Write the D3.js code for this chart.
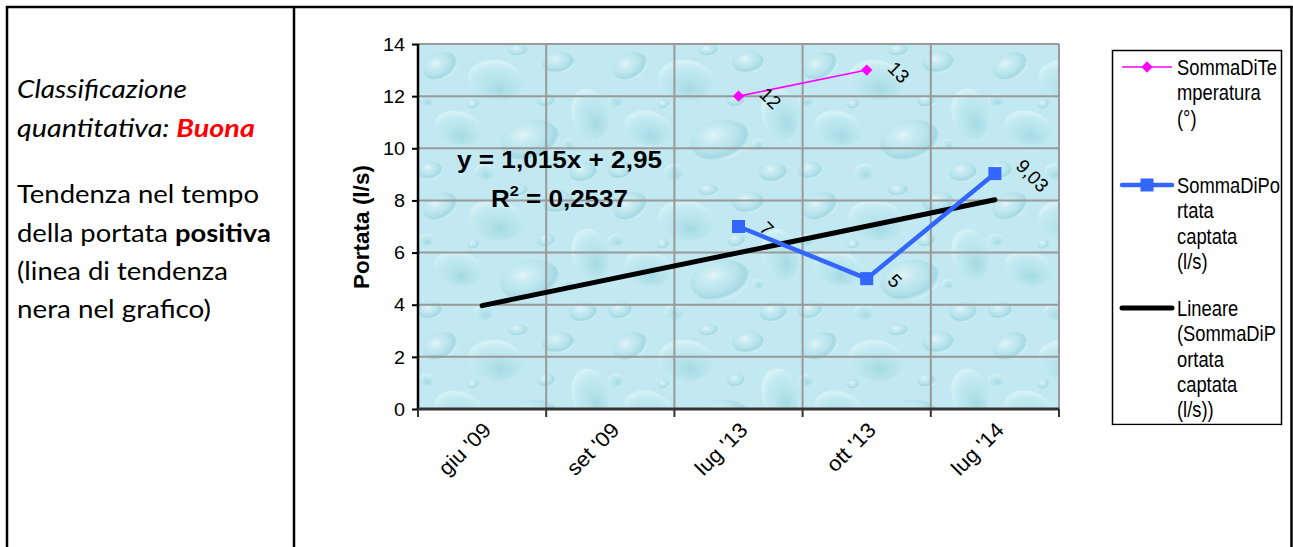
<!DOCTYPE html>
<html><head><meta charset="utf-8">
<script src="https://cdn.jsdelivr.net/npm/d3@7"></script>
<style>html,body{margin:0;padding:0;background:#fff;overflow:hidden}svg{display:block}</style>
</head><body><svg id="c" width="1293" height="547"></svg>
<script>
// ---------------- data ----------------
const categories = ["giu '09", "set '09", "lug '13", "ott '13", "lug '14"];
const temperatura = [null, null, 12, 13, null];
const portata = [null, null, 7, 5, 9.03];
const yTicks = [0, 2, 4, 6, 8, 10, 12, 14];
const yTitle = "Portata (l/s)";
const legendTemperatura = ["SommaDiTe", "mperatura", "(°)"];
const legendPortata = ["SommaDiPo", "rtata", "captata", "(l/s)"];
const legendLineare = ["Lineare", "(SommaDiP", "ortata", "captata", "(l/s))"];
const panelLine1 = "Classificazione";
const panelLine2a = "quantitativa: ";
const panelLine2b = "Buona";
const panelLine3 = "Tendenza nel tempo";
const panelLine4a = "della portata ";
const panelLine4b = "positiva";
const panelLine5 = "(linea di tendenza";
const panelLine6 = "nera nel grafico)";

// ---------------- setup ----------------
const svg = d3.select("#c");
const it = d3.formatLocale({decimal: ",", thousands: ".", grouping: [3], currency: ["", "€"]});
const fmtLabel = it.format("~g");
const ARIAL = "'Liberation Sans', Arial, sans-serif";
const PANEL_FONT = "Lato, 'Open Sans', sans-serif";

const plot = {left: 418, right: 1059, top: 44, bottom: 409};
const x = d3.scaleBand().domain(categories).range([plot.left, plot.right]).padding(0);
const y = d3.scaleLinear().domain([0, 14]).range([plot.bottom, plot.top]);
const cx = c => x(c) + x.bandwidth() / 2;

// ---------------- frame ----------------
const frame = svg.append("g").attr("stroke", "#000").attr("stroke-width", 2.5);
frame.append("line").attr("x1", 7).attr("x2", 7).attr("y1", 6).attr("y2", 547);
frame.append("line").attr("x1", 294).attr("x2", 294).attr("y1", 6).attr("y2", 547);
frame.append("line").attr("x1", 1291.5).attr("x2", 1291.5).attr("y1", 6).attr("y2", 547);
frame.append("line").attr("x1", 6).attr("x2", 1292.5).attr("y1", 7).attr("y2", 7);

// ---------------- left panel ----------------
const panel = svg.append("g").attr("font-family", PANEL_FONT).attr("font-size", 25).attr("fill", "#000");
function panelLine(parts, baseline, targetW) {
  const t = panel.append("text").attr("x", 0).attr("y", 0);
  parts.forEach(p => {
    const s = t.append("tspan").text(p.text);
    if (p.italic) s.attr("font-style", "italic");
    if (p.bold) s.attr("font-weight", "bold");
    if (p.fill) s.attr("fill", p.fill);
  });
  const w = t.node().getComputedTextLength();
  t.attr("transform", `translate(17,${baseline}) scale(${targetW / w},1)`);
}
panelLine([{text: panelLine1, italic: true}], 98, 170);
panelLine([{text: panelLine2a, italic: true}, {text: panelLine2b, italic: true, bold: true, fill: "#ff0000"}], 137, 238);
panelLine([{text: panelLine3}], 203, 242);
panelLine([{text: panelLine4a}, {text: panelLine4b, bold: true}], 242, 254);
panelLine([{text: panelLine5}], 280, 211);
panelLine([{text: panelLine6}], 318, 194);

// ---------------- plot background texture ----------------
const defs = svg.append("defs");
const rg = defs.append("radialGradient").attr("id", "drop").attr("cx", "40%").attr("cy", "35%").attr("r", "65%");
rg.append("stop").attr("offset", "0%").attr("stop-color", "#ffffff").attr("stop-opacity", 0.55);
rg.append("stop").attr("offset", "45%").attr("stop-color", "#b9e4ed").attr("stop-opacity", 0.3);
rg.append("stop").attr("offset", "85%").attr("stop-color", "#8ccbd9").attr("stop-opacity", 0.55);
rg.append("stop").attr("offset", "100%").attr("stop-color", "#d8f4f8").attr("stop-opacity", 0.6);
const rg2 = defs.append("radialGradient").attr("id", "drop2").attr("cx", "60%").attr("cy", "70%").attr("r", "65%");
rg2.append("stop").attr("offset", "0%").attr("stop-color", "#8fcfdc").attr("stop-opacity", 0.6);
rg2.append("stop").attr("offset", "70%").attr("stop-color", "#b7e4ec").attr("stop-opacity", 0.25);
rg2.append("stop").attr("offset", "100%").attr("stop-color", "#e6f9fb").attr("stop-opacity", 0.5);
const pat = defs.append("pattern").attr("id", "water").attr("patternUnits", "userSpaceOnUse")
  .attr("width", 190).attr("height", 140).attr("x", plot.left).attr("y", plot.top);
pat.append("rect").attr("width", 190).attr("height", 140).attr("fill", "#c2e9f1");
const texture = [
  [22, 22, 18, 13, 1, -20], [78, 36, 28, 20, 2, 10], [140, 18, 16, 11, 1, 0], [172, 70, 18, 26, 2, -15],
  [40, 84, 24, 17, 2, 15], [112, 96, 30, 20, 1, -10], [12, 126, 12, 9, 1, 0], [165, 128, 14, 10, 1, 0],
  [66, 128, 10, 8, 2, 0], [128, 56, 9, 7, 1, 0], [8, 56, 8, 6, 2, 0], [100, 6, 10, 6, 1, 0],
  [55, 60, 6, 5, 1, 0], [150, 100, 6, 5, 2, 0]
];
texture.forEach(d => pat.append("ellipse").attr("cx", d[0]).attr("cy", d[1]).attr("rx", d[2]).attr("ry", d[3])
  .attr("transform", `rotate(${d[5]},${d[0]},${d[1]})`)
  .attr("fill", d[4] === 1 ? "url(#drop)" : "url(#drop2)"));
svg.append("rect").attr("x", plot.left).attr("y", plot.top).attr("width", plot.right - plot.left)
  .attr("height", plot.bottom - plot.top).attr("fill", "url(#water)");

// ---------------- grid ----------------
const grid = svg.append("g").attr("stroke", "#999").attr("stroke-width", 2);
grid.selectAll("line.h").data(yTicks.filter(v => v > 0)).join("line")
  .attr("x1", plot.left).attr("x2", plot.right).attr("y1", d => y(d)).attr("y2", d => y(d));
const bounds = categories.slice(1).map(c => x(c)).concat([plot.right]);
grid.selectAll("line.v").data(bounds).join("line")
  .attr("x1", d => d).attr("x2", d => d).attr("y1", plot.top).attr("y2", plot.bottom);

// ---------------- axes ----------------
const yAxis = svg.append("g").attr("transform", `translate(${plot.left},0)`)
  .call(d3.axisLeft(y).tickValues(yTicks).tickSize(6).tickPadding(0).tickFormat(""));
yAxis.select(".domain").attr("stroke", "#000").attr("stroke-width", 2.5).attr("d", `M0,${plot.top}V${plot.bottom}`);
yAxis.selectAll(".tick line").attr("stroke", "#000").attr("stroke-width", 2);
const yLab = svg.append("g").attr("font-family", ARIAL).attr("font-size", 18.5).attr("fill", "#000");
yTicks.forEach(v => {
  const t = yLab.append("text").attr("text-anchor", "end").attr("dy", "0.36em").text(v);
  t.attr("transform", `translate(405,${y(v)}) scale(1.07,1)`);
});

const xAxis = svg.append("g").attr("transform", `translate(0,${plot.bottom})`)
  .call(d3.axisBottom(x).tickSize(0).tickFormat(""));
xAxis.select(".domain").attr("stroke", "#333").attr("stroke-width", 3).attr("d", `M${plot.left},0H${plot.right}`);
xAxis.selectAll(".tick").remove();
svg.append("g").attr("stroke", "#333").attr("stroke-width", 2)
  .selectAll("line").data([plot.left].concat(bounds)).join("line")
  .attr("x1", d => d).attr("x2", d => d).attr("y1", plot.bottom).attr("y2", plot.bottom + 8);
const xLab = svg.append("g").attr("font-family", ARIAL).attr("font-size", 21).attr("fill", "#000");
categories.forEach(c => {
  xLab.append("text").attr("text-anchor", "end").attr("dy", "0.36em")
    .attr("transform", `translate(${cx(c) + 5},${plot.bottom + 17}) rotate(-45) scale(1.05,1)`).text(c);
});

// y title
svg.append("text").attr("font-family", ARIAL).attr("font-size", 22.5).attr("font-weight", "bold")
  .attr("text-anchor", "middle").attr("dy", "0.36em")
  .attr("transform", `translate(361,227) rotate(-90)`).text(yTitle);

// ---------------- trend line (least squares on category index) ----------------
const pts = portata.map((v, i) => ({i: i + 1, v})).filter(d => d.v != null);
const mx = d3.mean(pts, d => d.i), my = d3.mean(pts, d => d.v);
const slope = d3.sum(pts, d => (d.i - mx) * (d.v - my)) / d3.sum(pts, d => (d.i - mx) ** 2);
const intercept = my - slope * mx;
const ssTot = d3.sum(pts, d => (d.v - my) ** 2);
const ssRes = d3.sum(pts, d => (d.v - (slope * d.i + intercept)) ** 2);
const r2 = 1 - ssRes / ssTot;
const xi = i => cx(categories[i - 1]);
svg.append("line").attr("x1", xi(1)).attr("y1", y(slope * 1 + intercept))
  .attr("x2", xi(categories.length)).attr("y2", y(slope * categories.length + intercept))
  .attr("stroke", "#000").attr("stroke-width", 5).attr("stroke-linecap", "round");

// ---------------- series ----------------
const lineGen = d3.line().defined(d => d.v != null).x(d => cx(d.c)).y(d => y(d.v));
const tData = categories.map((c, i) => ({c, v: temperatura[i]}));
const pData = categories.map((c, i) => ({c, v: portata[i]}));
svg.append("path").datum(pData).attr("d", lineGen).attr("fill", "none")
  .attr("stroke", "#3366ff").attr("stroke-width", 4.5).attr("stroke-linejoin", "miter");
svg.selectAll("rect.pm").data(pData.filter(d => d.v != null)).join("rect").attr("class", "pm")
  .attr("x", d => cx(d.c) - 6.5).attr("y", d => y(d.v) - 6.5).attr("width", 13).attr("height", 13).attr("fill", "#3366ff");
svg.append("path").datum(tData).attr("d", lineGen).attr("fill", "none")
  .attr("stroke", "#ff00ff").attr("stroke-width", 1.6);
const diamond = d3.symbol().type(d3.symbolSquare).size(64);
svg.selectAll("path.tm").data(tData.filter(d => d.v != null)).join("path").attr("class", "tm")
  .attr("d", diamond).attr("fill", "#ff00ff")
  .attr("transform", d => `translate(${cx(d.c)},${y(d.v)}) rotate(45)`);

// data labels (rotated 45°, to the right of points)
const dl = svg.append("g").attr("font-family", ARIAL).attr("font-size", 19).attr("fill", "#000");
function dataLabels(data) {
  data.filter(d => d.v != null).forEach(d => {
    const t = dl.append("text").attr("text-anchor", "middle").attr("dy", "0.36em").text(fmtLabel(d.v));
    const L = t.node().getComputedTextLength();
    const half = (L + 13) * 0.7071 / 2;
    t.attr("transform", `translate(${cx(d.c) + 20 + half},${y(d.v) + 2}) rotate(45)`);
  });
}
dataLabels(tData);
dataLabels(pData);

// equation
const eqFmtS = it.format(".4~g"), eqFmtI = it.format(".3~g"), eqFmtR = it.format(".4f");
const eq = svg.append("g").attr("font-family", ARIAL).attr("font-weight", "bold").attr("fill", "#000");
eq.append("text").attr("x", 457).attr("y", 168).attr("font-size", 24)
  .attr("textLength", 205).attr("lengthAdjust", "spacingAndGlyphs")
  .text(`y = ${eqFmtS(slope)}x + ${eqFmtI(intercept)}`);
const r2t = eq.append("text").attr("font-size", 24);
r2t.append("tspan").text("R");
r2t.append("tspan").attr("font-size", 15).attr("dy", -11).text("2");
r2t.append("tspan").attr("dy", 11).text(" = " + eqFmtR(r2));
const r2w = r2t.node().getComputedTextLength();
r2t.attr("transform", `translate(491,207) scale(${137 / r2w},1)`);

// ---------------- legend ----------------
const lg = svg.append("g");
const lgText = lg.append("g").attr("font-family", ARIAL).attr("font-size", 22).attr("fill", "#000");
const probe = lgText.append("text").text(legendTemperatura[0]);
const lgScale = 100 / probe.node().getComputedTextLength();
probe.remove();
function legendEntry(lines, ly, drawSample) {
  drawSample(lg, ly);
  lines.forEach((s, k) => {
    lgText.append("text").attr("transform", `translate(1177,${ly + 8 + k * 25.3}) scale(${lgScale},1)`).text(s);
  });
}
legendEntry(legendTemperatura, 67, (g, ly) => {
  g.append("line").attr("x1", 1122).attr("x2", 1172).attr("y1", ly).attr("y2", ly).attr("stroke", "#ff00ff").attr("stroke-width", 1.6);
  g.append("path").attr("d", diamond).attr("fill", "#ff00ff").attr("transform", `translate(1147,${ly}) rotate(45)`);
});
legendEntry(legendPortata, 185, (g, ly) => {
  g.append("line").attr("x1", 1122).attr("x2", 1172).attr("y1", ly).attr("y2", ly).attr("stroke", "#3366ff")
    .attr("stroke-width", 4.5).attr("stroke-linecap", "round");
  g.append("rect").attr("x", 1140.5).attr("y", ly - 6.5).attr("width", 13).attr("height", 13).attr("fill", "#3366ff");
});
legendEntry(legendLineare, 308, (g, ly) => {
  g.append("line").attr("x1", 1122).attr("x2", 1172).attr("y1", ly).attr("y2", ly).attr("stroke", "#000")
    .attr("stroke-width", 5).attr("stroke-linecap", "round");
});
lg.append("rect").attr("x", 1112.5).attr("y", 50.5).attr("width", 169).attr("height", 374)
  .attr("fill", "none").attr("stroke", "#000").attr("stroke-width", 1.5);
// cover text overflowing below the legend box
lg.append("rect").attr("x", 1113).attr("y", 425.3).attr("width", 168).attr("height", 12).attr("fill", "#fff");
</script>
</body></html>
